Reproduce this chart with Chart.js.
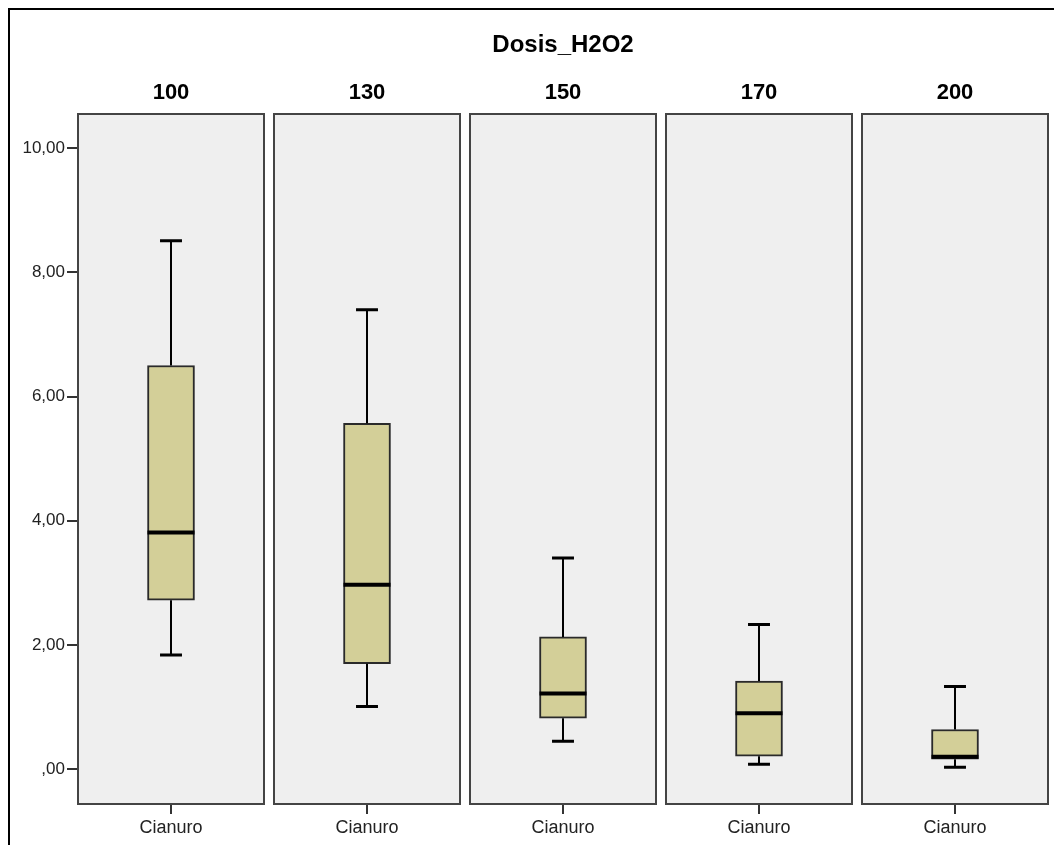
<!DOCTYPE html>
<html>
<head>
<meta charset="utf-8">
<script src="https://cdn.jsdelivr.net/npm/chart.js@4/dist/chart.umd.min.js"></script>
<style>
    html, body { margin: 0; padding: 0; background: #fff; }
    #frame {
        position: absolute; left: 8px; top: 8px; width: 1100px; height: 900px;
        border-left: 2px solid #000; border-top: 2px solid #000;
    }
    #chart_box { position: absolute; left: 0; top: 0; }
</style>
</head>
<body>
<div id="frame"></div>
<canvas id="chart_box" width="1054" height="845"></canvas>
<script>
// Dosis_H2O2 groups, one panel each
const doses = ['100', '130', '150', '170', '200'];
const variableName = 'Cianuro';

// box plot statistics
const whiskerLow = [1.84, 1.01, 0.45, 0.08, 0.03];
const quartile1 = [2.72, 1.70, 0.82, 0.21, 0.16];
const medians = [3.81, 2.97, 1.22, 0.90, 0.20];
const quartile3 = [6.50, 5.57, 2.13, 1.42, 0.64];
const whiskerHigh = [8.51, 7.40, 3.40, 2.33, 1.33];

const yTicks = [0, 2, 4, 6, 8, 10];

const panelHalf = 0.4745;   // half panel width in x units
const capHalf = 0.056;      // half whisker cap width in x units

function fmtTick(v) {
    if (v === 0) return ',00';
    return v.toFixed(2).replace('.', ',');
}

// grey panels behind the boxes
const panelPlugin = {
    id: 'panels',
    beforeDatasetsDraw(chart) {
        const ctx = chart.ctx;
        const x = chart.scales.x;
        const area = chart.chartArea;
        ctx.save();
        doses.forEach((d, i) => {
            const l = x.getPixelForValue(i - panelHalf);
            const r = x.getPixelForValue(i + panelHalf);
            ctx.fillStyle = '#efefef';
            ctx.fillRect(l, area.top, r - l, area.bottom - area.top);
            ctx.strokeStyle = '#444';
            ctx.lineWidth = 2;
            ctx.strokeRect(l, area.top, r - l, area.bottom - area.top);
        });
        ctx.restore();
    }
};

// whiskers and median lines
const whiskerPlugin = {
    id: 'whiskers',
    afterDatasetsDraw(chart) {
        const ctx = chart.ctx;
        const x = chart.scales.x;
        const y = chart.scales.y;
        const meta = chart.getDatasetMeta(0);
        ctx.save();
        ctx.strokeStyle = '#000';
        doses.forEach((d, i) => {
            const cx = x.getPixelForValue(i);
            const c1 = x.getPixelForValue(i - capHalf);
            const c2 = x.getPixelForValue(i + capHalf);
            // stems
            ctx.lineWidth = 2;
            ctx.beginPath();
            ctx.moveTo(cx, y.getPixelForValue(quartile3[i]));
            ctx.lineTo(cx, y.getPixelForValue(whiskerHigh[i]));
            ctx.moveTo(cx, y.getPixelForValue(quartile1[i]));
            ctx.lineTo(cx, y.getPixelForValue(whiskerLow[i]));
            ctx.stroke();
            // caps
            ctx.lineWidth = 3;
            ctx.beginPath();
            ctx.moveTo(c1, y.getPixelForValue(whiskerHigh[i]));
            ctx.lineTo(c2, y.getPixelForValue(whiskerHigh[i]));
            ctx.moveTo(c1, y.getPixelForValue(whiskerLow[i]));
            ctx.lineTo(c2, y.getPixelForValue(whiskerLow[i]));
            ctx.stroke();
            // median across the box
            const bar = meta.data[i];
            const half = bar.width / 2;
            ctx.lineWidth = 4;
            ctx.beginPath();
            ctx.moveTo(cx - half, y.getPixelForValue(medians[i]));
            ctx.lineTo(cx + half, y.getPixelForValue(medians[i]));
            ctx.stroke();
        });
        ctx.restore();
    }
};

function setPanelTicks(scale) {
    scale.ticks = doses.map((d, i) => ({ value: i }));
}

let ctx_box = document.getElementById('chart_box');
let chart_box = new Chart(ctx_box, {
    type: 'bar',
    data: {
        datasets: [{
            label: variableName,
            data: doses.map((d, i) => ({ x: i, y: [quartile1[i], quartile3[i]] })),
            backgroundColor: '#d3cf98',
            borderColor: '#2a2a2a',
            borderWidth: 2,
            borderSkipped: false,
            barThickness: 47
        }]
    },
    options: {
        responsive: false,
        animation: false,
        devicePixelRatio: 1,
        layout: {
            padding: { left: 0, right: 6, top: 0, bottom: 0 }
        },
        plugins: {
            legend: { display: false },
            tooltip: { enabled: false },
            title: { display: false }
        },
        scales: {
            x: {
                type: 'linear',
                position: 'bottom',
                offset: false,
                min: -panelHalf,
                max: doses.length - 1 + panelHalf,
                afterBuildTicks: setPanelTicks,
                afterFit: (s) => { s.height = 41; },
                ticks: {
                    autoSkip: false,
                    maxRotation: 0,
                    padding: 3,
                    color: '#222',
                    font: { family: 'Liberation Sans', size: 18 },
                    callback: () => variableName
                },
                grid: {
                    offset: false,
                    drawOnChartArea: false,
                    drawTicks: true,
                    tickLength: 10,
                    color: '#333',
                    lineWidth: 2
                },
                border: { display: false }
            },
            xTop: {
                type: 'linear',
                axis: 'x',
                position: 'top',
                offset: false,
                min: -panelHalf,
                max: doses.length - 1 + panelHalf,
                afterBuildTicks: setPanelTicks,
                afterFit: (s) => { s.height = 114; },
                title: {
                    display: true,
                    text: 'Dosis_H2O2',
                    color: '#000',
                    font: { family: 'Liberation Sans', size: 24, weight: 'bold' },
                    padding: { top: 31, bottom: 4 }
                },
                ticks: {
                    autoSkip: false,
                    maxRotation: 0,
                    padding: 8,
                    color: '#000',
                    font: { family: 'Liberation Sans', size: 22, weight: 'bold' },
                    callback: (v) => doses[v]
                },
                grid: { display: false, drawTicks: false, offset: false },
                border: { display: false }
            },
            y: {
                type: 'linear',
                position: 'left',
                min: -0.56,
                max: 10.55,
                afterBuildTicks: (s) => { s.ticks = yTicks.map(v => ({ value: v })); },
                afterFit: (s) => { s.width = 78; },
                ticks: {
                    padding: 2,
                    color: '#222',
                    font: { family: 'Liberation Sans', size: 17 },
                    callback: (v) => fmtTick(v)
                },
                grid: {
                    drawOnChartArea: false,
                    drawTicks: true,
                    tickLength: 11,
                    color: '#333',
                    lineWidth: 2
                },
                border: { display: false }
            }
        }
    },
    plugins: [panelPlugin, whiskerPlugin]
});
</script>
</body>
</html>
